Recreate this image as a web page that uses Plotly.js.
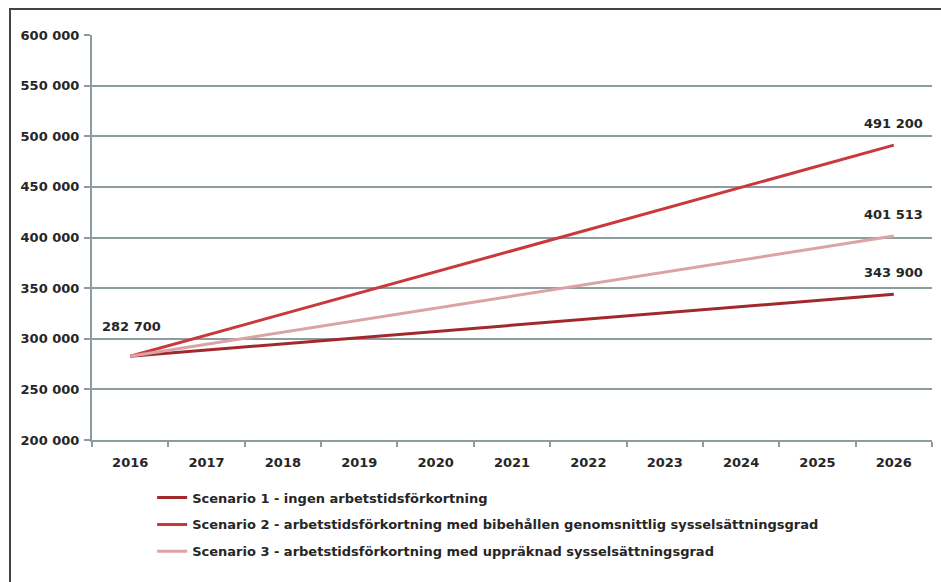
<!DOCTYPE html>
<html>
<head>
<meta charset="utf-8">
<script src="https://cdn.plot.ly/plotly-3.0.1.min.js"></script>
<style>
  html, body { margin: 0; padding: 0; background: #fff; }
  #chart { width: 941px; height: 582px; }
  #frame { position: absolute; left: 9px; top: 8px; width: 940px; height: 580px;
           border-top: 2px solid #444; border-left: 2px solid #444; pointer-events: none; }
</style>
</head>
<body>
<div id="chart"></div>
<div id="frame"></div>
<script>
const years = ['2016','2017','2018','2019','2020','2021','2022','2023','2024','2025','2026'];
const pointYears = ['2016', '2026'];
const scenarioNames = [
  'Scenario 1 - ingen arbetstidsförkortning',
  'Scenario 2 - arbetstidsförkortning med bibehållen genomsnittlig sysselsättningsgrad',
  'Scenario 3 - arbetstidsförkortning med uppräknad sysselsättningsgrad'
];
const scenario1 = [282700, 343900];
const scenario2 = [282700, 491200];
const scenario3 = [282700, 401513];
const yTicks = [200000, 250000, 300000, 350000, 400000, 450000, 500000, 550000, 600000];
const colors = ['#a3282c', '#c9393b', '#dba3a4'];

const fmt = v => String(v).replace(/\B(?=(\d{3})+(?!\d))/g, ' ');
const series = [scenario1, scenario2, scenario3];

const traces = series.map((s, i) => ({
  x: pointYears, y: s, type: 'scatter', mode: 'lines', name: scenarioNames[i],
  legendgroup: 'g' + i,
  line: { color: colors[i], width: 3 }
}));

const font = { family: 'DejaVu Sans, sans-serif', size: 13, color: '#262626', weight: 'bold' };
const f = () => Object.assign({}, font);

const idx = y => years.indexOf(y);
const annotations = [
  { x: idx(pointYears[0]), y: scenario1[0], text: fmt(scenario1[0]), yshift: 30, xshift: 1 },
  { x: idx(pointYears[1]), y: scenario2[1], text: fmt(scenario2[1]), yshift: 22 },
  { x: idx(pointYears[1]), y: scenario3[1], text: fmt(scenario3[1]), yshift: 21 },
  { x: idx(pointYears[1]), y: scenario1[1], text: fmt(scenario1[1]), yshift: 22 }
].map(a => Object.assign({ showarrow: false, xref: 'x', yref: 'y', font: f() }, a));

const layout = {
  width: 941, height: 582,
  margin: { l: 92, r: 9, t: 35, b: 142 },
  paper_bgcolor: '#fff', plot_bgcolor: '#fff',
  separators: ', ',
  font: f(),
  showlegend: true,
  legend: { x: 0.0716, y: -0.105, xanchor: 'left', yanchor: 'top', orientation: 'v',
            font: f(), tracegroupgap: 7, itemwidth: 30,
            bgcolor: 'rgba(0,0,0,0)' },
  xaxis: {
    type: 'category', categoryorder: 'array', categoryarray: years,
    range: [-0.5, years.length - 0.5],
    tickvals: years, ticktext: years,
    showgrid: false, showline: true, linecolor: '#8e9ca0', linewidth: 2,
    ticks: 'outside', tickson: 'boundaries', ticklen: 5, tickcolor: '#8e9ca0', tickwidth: 2,
    ticklabelstandoff: 9,
    tickfont: f(), zeroline: false, fixedrange: true
  },
  yaxis: {
    range: [200000, 600000], tickvals: yTicks, tickformat: ',d',
    showgrid: true, gridcolor: '#8e9ca0', gridwidth: 2,
    showline: true, linecolor: '#8e9ca0', linewidth: 2,
    ticks: 'outside', ticklen: 6, tickcolor: '#8e9ca0', tickwidth: 2,
    ticklabelstandoff: 2,
    tickfont: f(), zeroline: false, fixedrange: true
  },
  annotations: annotations
};

Plotly.newPlot('chart', traces, layout, { staticPlot: true, displayModeBar: false });
</script>
</body>
</html>
